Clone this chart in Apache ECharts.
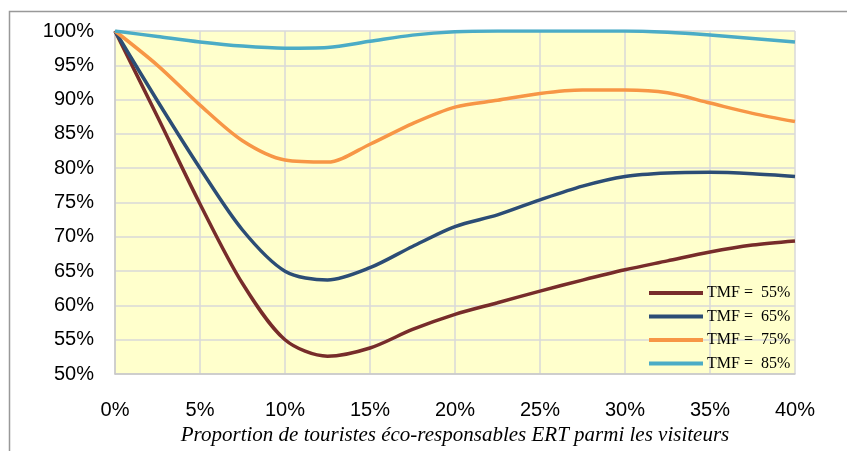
<!DOCTYPE html>
<html>
<head>
<meta charset="utf-8">
<script src="https://cdn.jsdelivr.net/npm/echarts@6/dist/echarts.min.js"></script>
<style>html,body{margin:0;padding:0;background:#fff}#c{width:847px;height:451px}</style>
</head>
<body>
<div id="c"></div>
<script>
// Proportion de touristes ERT (%)
const xValues = [0, 2.5, 5, 7.5, 10, 12.5, 15, 17.5, 20, 22.5, 25, 27.5, 30, 32.5, 35, 37.5, 40];
const seriesNames = ['TMF =  55%', 'TMF =  65%', 'TMF =  75%', 'TMF =  85%'];
const tmf55 = [100, 87.5, 74.8, 63.2, 55.0, 52.6, 53.8, 56.5, 58.7, 60.4, 62.1, 63.7, 65.2, 66.5, 67.8, 68.8, 69.4];
const tmf65 = [100, 89.8, 80.0, 71.0, 65.0, 63.7, 65.5, 68.6, 71.5, 73.2, 75.4, 77.4, 78.8, 79.3, 79.4, 79.2, 78.8];
const tmf75 = [100, 95.0, 89.2, 84.0, 81.2, 80.9, 83.5, 86.5, 88.9, 89.9, 90.9, 91.4, 91.4, 91.0, 89.5, 88.0, 86.8];
const tmf85 = [100, 99.2, 98.4, 97.8, 97.5, 97.6, 98.5, 99.4, 99.9, 100, 100, 100, 100, 99.8, 99.4, 98.9, 98.4];
const xTitle = 'Proportion de touristes éco-responsables ERT parmi les visiteurs';

const colors = ['#772C2A', '#2C4D75', '#F79646', '#4BACC6'];
const allSeries = [tmf55, tmf65, tmf75, tmf85];

const chart = echarts.init(document.getElementById('c'), null, {renderer: 'canvas'});
chart.setOption({
  animation: false,
  graphic: [{
    type: 'rect', z: -10,
    shape: {x: 9.5, y: 11.5, width: 860, height: 460},
    style: {fill: 'none', stroke: '#999', lineWidth: 1.5}
  }],
  grid: {left: 115, right: 52, top: 31, bottom: 74, show: true, backgroundColor: '#FFFFCC', borderWidth: 0},
  legend: {
    orient: 'vertical', left: 644, top: 280, itemGap: 7.5,
    itemWidth: 54, itemHeight: 4, icon: 'rect',
    textStyle: {fontFamily: 'Liberation Serif', fontSize: 16, color: '#000', padding: [0, 0, 0, -1]},
    data: seriesNames
  },
  xAxis: {
    type: 'value', min: 0, max: 40, interval: 5,
    name: xTitle, nameLocation: 'middle', nameGap: 49,
    nameTextStyle: {fontFamily: 'Liberation Serif', fontStyle: 'italic', fontSize: 21, color: '#000'},
    axisLine: {show: true, lineStyle: {color: '#c8c8c8', width: 1.5}},
    axisTick: {show: false},
    axisLabel: {formatter: '{value}%', fontFamily: 'Liberation Sans', fontSize: 20, color: '#000', margin: 26},
    splitLine: {show: true, lineStyle: {color: '#d9d9d9', width: 1.5}}
  },
  yAxis: {
    type: 'value', min: 50, max: 100, interval: 5,
    axisLine: {show: true, lineStyle: {color: '#c8c8c8', width: 1.5}},
    axisTick: {show: false},
    axisLabel: {formatter: '{value}%', fontFamily: 'Liberation Sans', fontSize: 20, color: '#000', margin: 21},
    splitLine: {show: true, lineStyle: {color: '#d9d9d9', width: 1.5}}
  },
  series: allSeries.map((vals, i) => ({
    name: seriesNames[i], type: 'line', smooth: 0.3, showSymbol: false,
    color: colors[i],
    lineStyle: {width: 3.5, color: colors[i]},
    data: xValues.map((x, j) => [x, vals[j]])
  }))
});
</script>
</body>
</html>
